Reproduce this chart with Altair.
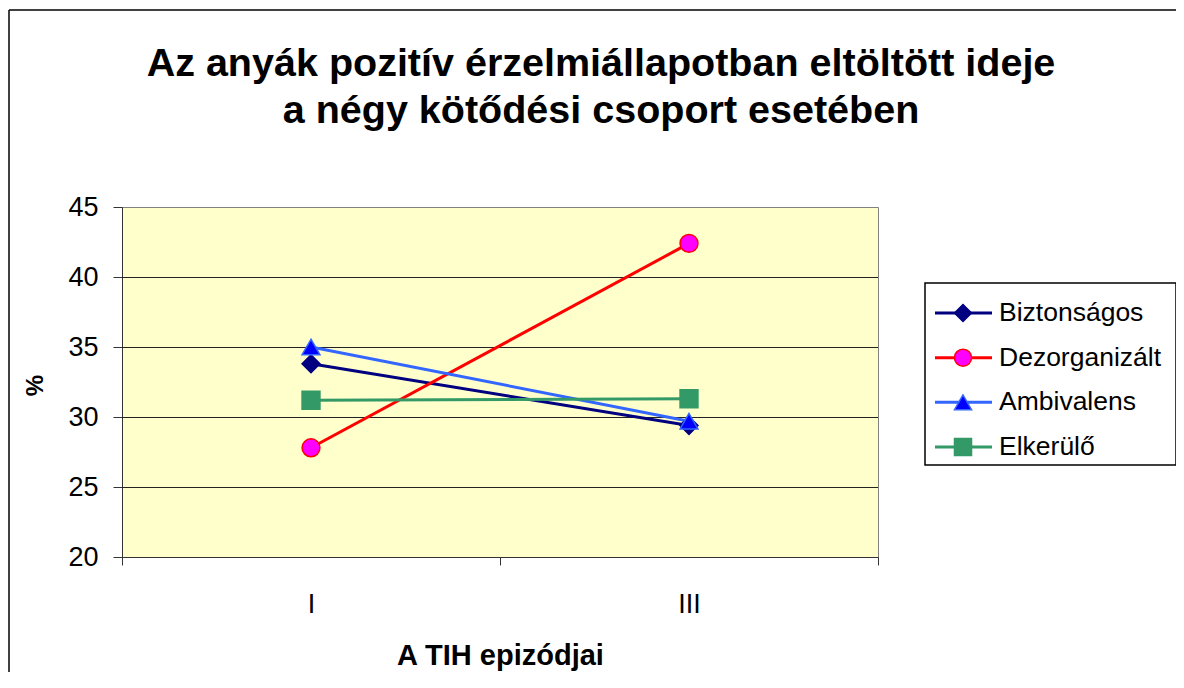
import altair as alt
import pandas as pd

episodes = ["I", "III"]
series_names = ["Biztonságos", "Dezorganizált", "Ambivalens", "Elkerülő"]
biztonsagos = [33.8, 29.4]
dezorganizalt = [27.8, 42.4]
ambivalens = [35.0, 29.7]
elkerulo = [31.2, 31.3]
y_ticks = [20, 25, 30, 35, 40, 45]
grid_values = [25, 30, 35, 40]

line_colors = ["#000080", "#FF0000", "#3366FF", "#339966"]
marker_fills = ["#000080", "#FF00FF", "#0000FF", "#339966"]
marker_strokes = ["#000080", "#FF0000", "#3366FF", "#339966"]
marker_shapes = ["diamond", "circle", "triangle-up", "square"]

FONT = "Liberation Sans"

rows = []
for name, vals in zip(series_names, [biztonsagos, dezorganizalt, ambivalens, elkerulo]):
    for ep, v in zip(episodes, vals):
        rows.append({"series": name, "episode": ep, "value": v})
df = pd.DataFrame(rows)
legend_df = pd.DataFrame({"series": series_names})

x_enc = alt.X(
    "episode:N",
    sort=episodes,
    scale=alt.Scale(domain=episodes, paddingInner=0, paddingOuter=0),
    axis=alt.Axis(
        title="A TIH epizódjai",
        titleFont=FONT, titleFontSize=29, titleFontWeight="bold", titleColor="black",
        titleY=98, titleBaseline="middle",
        labelFont=FONT, labelFontSize=27, labelColor="black", labelPadding=26, labelAngle=0,
        tickSize=8, tickColor="#333333", domainColor="#333333", tickBand="extent",
    ),
)
y_axis = alt.Axis(
    values=y_ticks, grid=False, title="%",
    titleFont=FONT, titleFontSize=24, titleFontWeight="bold", titleColor="black",
    titleAngle=270, titleX=-87, titleY=178, titleAlign="center", titleBaseline="middle",
    labelFont=FONT, labelFontSize=27, labelColor="black", labelPadding=15,
    tickSize=9, tickColor="#333333", domainColor="#333333",
)
y_scale = alt.Scale(domain=[20, 45], nice=False, zero=False)

color_scale = alt.Scale(domain=series_names, range=line_colors)
shape_scale = alt.Scale(domain=series_names, range=marker_shapes)
fill_scale = alt.Scale(domain=series_names, range=marker_fills)
stroke_scale = alt.Scale(domain=series_names, range=marker_strokes)

# outer chart frame (left and top edges visible in the reference)
one = pd.DataFrame({"a": [0]})
frame_left = alt.Chart(one).mark_rule(color="black", strokeWidth=1.5).encode(
    x=alt.value(-113), y=alt.value(-197), y2=alt.value(465)
)
frame_top = alt.Chart(one).mark_rule(color="black", strokeWidth=1.5).encode(
    x=alt.value(-113), x2=alt.value(1054), y=alt.value(-197)
)

grid = alt.Chart(pd.DataFrame({"value": grid_values})).mark_rule(
    color="#222222", strokeWidth=1, yOffset=0.5
).encode(y=alt.Y("value:Q", scale=y_scale, axis=None))

lines = alt.Chart(df).mark_line(strokeWidth=3).encode(
    x=x_enc,
    y=alt.Y("value:Q", scale=y_scale, axis=None),
    color=alt.Color("series:N", scale=color_scale, legend=None),
)

points = alt.Chart(df).mark_point(filled=True, strokeWidth=1.5, opacity=1, size=320).encode(
    x=x_enc,
    y=alt.Y("value:Q", scale=y_scale, axis=y_axis),
    shape=alt.Shape("series:N", scale=shape_scale, legend=None),
    fill=alt.Fill("series:N", scale=fill_scale, legend=None),
    stroke=alt.Stroke("series:N", scale=stroke_scale, legend=None),
)

# legend box built from the series list
leg_y = alt.Y("series:N", scale=alt.Scale(type="point", domain=series_names, range=[106, 240], padding=0), axis=None)
leg_box = alt.Chart(one).mark_rect(fill="white", stroke="black", strokeWidth=1.5).encode(
    x=alt.value(803), x2=alt.value(1054), y=alt.value(76), y2=alt.value(258)
)
leg_lines = alt.Chart(legend_df).mark_rule(strokeWidth=3).encode(
    x=alt.value(813), x2=alt.value(870), y=leg_y,
    color=alt.Color("series:N", scale=color_scale, legend=None),
)
leg_points = alt.Chart(legend_df).mark_point(filled=True, strokeWidth=1.5, opacity=1, size=290).encode(
    x=alt.value(841), y=leg_y,
    shape=alt.Shape("series:N", scale=shape_scale, legend=None),
    fill=alt.Fill("series:N", scale=fill_scale, legend=None),
    stroke=alt.Stroke("series:N", scale=stroke_scale, legend=None),
)
leg_text = alt.Chart(legend_df).mark_text(
    align="left", baseline="middle", font=FONT, fontSize=26.5, color="black"
).encode(x=alt.value(877), y=leg_y, text="series:N")
legend = alt.layer(leg_box, leg_lines, leg_points, leg_text)

chart = alt.layer(frame_left, frame_top, grid, lines, points, legend).resolve_scale(
    y="independent"
).properties(
    width=756,
    height=350,
    padding={"left": 114, "top": 199, "right": 298, "bottom": 115},
    autosize=alt.AutoSizeParams(type="none"),
    title=alt.TitleParams(
        text=["Az anyák pozitív érzelmiállapotban eltöltött ideje",
              "a négy kötődési csoport esetében"],
        font=FONT, fontSize=39.5, fontWeight="bold", color="black",
        anchor="middle", frame="group", dx=101, offset=-122, lineHeight=47,
    ),
).configure(background="white").configure_view(fill="#FFFFCC", stroke="#808080", strokeWidth=1)

chart.save("out.html", embed_options={"renderer": "svg", "actions": False})
